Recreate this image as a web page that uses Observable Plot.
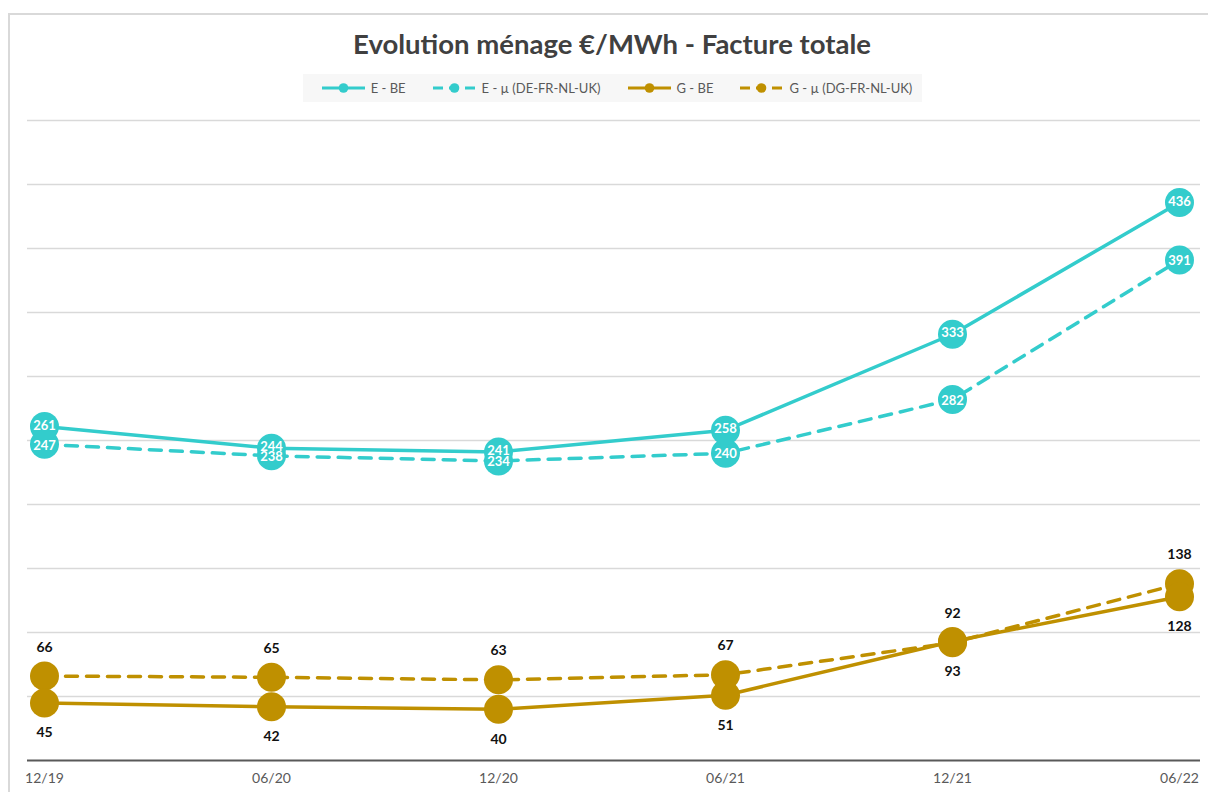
<!DOCTYPE html>
<html>
<head>
<meta charset="utf-8">
<script src="https://cdn.jsdelivr.net/npm/d3@7"></script>
<script src="https://cdn.jsdelivr.net/npm/@observablehq/plot@0.6"></script>
<style>
  body { margin: 0; background: #fff; font-family: Lato, "Open Sans", sans-serif; }
  #wrap { position: relative; width: 1208px; height: 792px; overflow: hidden; }
  #frame { position: absolute; left: 8px; top: 13px; width: 1300px; height: 900px; border-left: 2px solid #d9d9d9; border-top: 2px solid #d9d9d9; }
  #title { position: absolute; left: 0; width: 1224px; top: 27px; text-align: center; font-size: 27.5px; font-weight: 700; color: #404040; }
  #legend { position: absolute; left: 303px; top: 74px; width: 619px; height: 28px; background: #f7f7f7; display: flex; align-items: center; justify-content: center; gap: 26px; font-size: 13px; color: #595959; padding-left: 8px; box-sizing: border-box; }
  .item { display: flex; align-items: center; gap: 5px; }
  #chart { position: absolute; left: 0; top: 0; }
</style>
</head>
<body>
<div id="wrap">
  <div id="frame"></div>
  <div id="title">Evolution ménage €/MWh - Facture totale</div>
  <div id="legend"></div>
  <div id="chart"></div>
</div>
<script>
const categories = ["12/19", "06/20", "12/20", "06/21", "12/21", "06/22"];
const seriesNames = ["E - BE", "E - µ (DE-FR-NL-UK)", "G - BE", "G - µ (DG-FR-NL-UK)"];
const eBE = [261, 244, 241, 258, 333, 436];
const eMu = [247, 238, 234, 240, 282, 391];
const gBE = [45, 42, 40, 51, 93, 128];
const gMu = [66, 65, 63, 67, 92, 138];
const gridTicks = [50, 100, 150, 200, 250, 300, 350, 400, 450, 500];

const teal = "#33CCCC";
const gold = "#BF9000";

const seriesValues = [eBE, eMu, gBE, gMu];
const seriesColor = [teal, teal, gold, gold];
const seriesDash = [null, "12,9", null, "12,9"];

const data = [];
seriesValues.forEach((vals, s) => vals.forEach((v, i) => data.push({series: seriesNames[s], s, cat: categories[i], value: v})));
const bySeries = s => data.filter(d => d.s === s);

// legend
const legend = document.getElementById("legend");
seriesNames.forEach((name, s) => {
  const item = document.createElement("div");
  item.className = "item";
  const dash = seriesDash[s] ? 'stroke-dasharray="10,6"' : "";
  item.innerHTML = `<svg width="45" height="12"><line x1="1" x2="44" y1="6" y2="6" stroke="${seriesColor[s]}" stroke-width="3" ${dash}/><circle cx="22.5" cy="6" r="4.8" fill="${seriesColor[s]}"/></svg><span>${name}</span>`;
  legend.appendChild(item);
});

const marks = [
  Plot.ruleY(gridTicks, {stroke: "#d9d9d9", strokeWidth: 1.3, insetLeft: -16, insetRight: -20}),
  Plot.ruleY([0], {stroke: "#595959", strokeWidth: 2.2, insetLeft: -16, insetRight: -20}),
  Plot.axisX({tickSize: 0, tickPadding: 13, fontSize: 14, fill: "#595959", label: null, fontFamily: "Lato"})
];
[3, 2, 1, 0].forEach(s => {
  marks.push(Plot.line(bySeries(s), {x: "cat", y: "value", stroke: seriesColor[s], strokeWidth: 3.5, strokeDasharray: seriesDash[s]}));
});
[3, 2, 1, 0].forEach(s => {
  marks.push(Plot.dot(bySeries(s), {x: "cat", y: "value", r: 14.5, fill: seriesColor[s], stroke: "none"}));
});
marks.push(Plot.text(bySeries(1), {x: "cat", y: "value", text: d => String(d.value), fill: "white", fontWeight: "bold", fontSize: 13, dy: 1}));
marks.push(Plot.text(bySeries(0), {x: "cat", y: "value", text: d => String(d.value), fill: "white", fontWeight: "bold", fontSize: 13, dy: -1}));
marks.push(Plot.text(bySeries(3), {x: "cat", y: "value", text: d => String(d.value), fill: "#111", fontWeight: "bold", fontSize: 14, dy: -29}));
marks.push(Plot.text(bySeries(2), {x: "cat", y: "value", text: d => String(d.value), fill: "#111", fontWeight: "bold", fontSize: 14, dy: 30}));

const chart = Plot.plot({
  width: 1208,
  height: 792,
  marginTop: 120,
  marginBottom: 32,
  marginLeft: 43,
  marginRight: 28,
  style: {background: "transparent", fontFamily: "Lato"},
  x: {type: "point", domain: categories, padding: 0},
  y: {domain: [0, 500], axis: null},
  marks
});
document.getElementById("chart").appendChild(chart);
</script>
</body>
</html>
